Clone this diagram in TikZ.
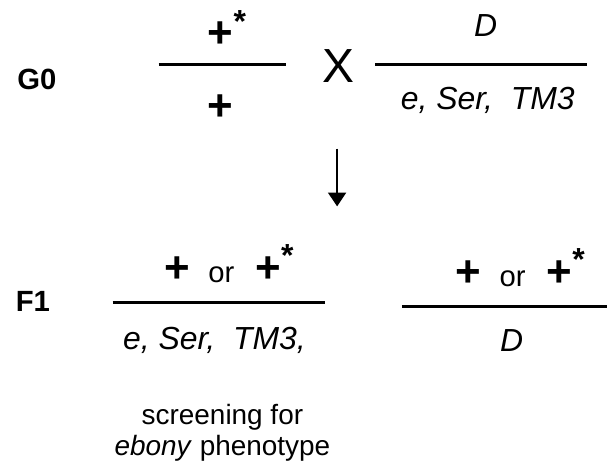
\documentclass[tikz,border=0pt]{standalone}
\usepackage{fontspec}
\setmainfont{Liberation Sans}
\usetikzlibrary{arrows.meta}

\tikzset{every picture/.style={line width=0.75pt}}
\tikzset{
  bar/.style={line width=2.4pt},
  gentext/.style={inner sep=0pt, anchor=base, font=\fontsize{24}{27}\selectfont\itshape},
  plustext/.style={inner sep=0pt, anchor=base west, font=\fontsize{33}{35}\selectfont\bfseries},
  gentag/.style={inner sep=0pt, anchor=base, font=\fontsize{22}{25}\selectfont\bfseries},
  notetext/.style={inner sep=0pt, align=center, font=\fontsize{21}{23}\selectfont},
}
\newcommand{\plusstar}{+\raisebox{0.36em}{\fontsize{24}{24}\selectfont *}}
\newcommand{\plusorstar}{+\hspace{14pt}{\fontsize{22}{24}\mdseries\selectfont or}\hspace{16pt}\plusstar}

\begin{document}
\begin{tikzpicture}[x=0.75pt,y=0.75pt,yscale=-1,xscale=1]
%set diagram size
\path (0,0) rectangle (609,469);

%Text Node
\node [gentag] (g0) at (37,90) {G0};
%Text Node
\node [gentag] (f1) at (33,312) {F1};

%Straight Lines
\draw [bar] (159,65) -- (287,65) ;
%Text Node
\node [plustext] (g0top) at (208,48) {\plusstar};
%Text Node
\node [plustext] (g0bot) at (208,121) {+};

%Text Node
\node [inner sep=0pt, anchor=base, font=\fontsize{36}{40}\selectfont] (cross) at (339,83) {X};

%Straight Lines
\draw [bar] (376,65) -- (589,65) ;
%Text Node
\node [gentext] (baltop) at (487,37) {D};
%Text Node
\node [gentext] (balbot) at (489,110) {e, Ser,\ \ TM3};

%Straight Lines
\coordinate (arrowtop) at (338,149);
\coordinate (arrowtip) at (338,207);
\draw [line width=1.8pt, -{Triangle[length=10.5pt,width=13.5pt]}] (arrowtop) -- (arrowtip) ;

%Straight Lines
\draw [bar] (113,303) -- (326,303) ;
%Text Node
\node [plustext] (f1atop) at (164,283) {\plusorstar};
%Text Node
\node [gentext] (f1abot) at (215,350) {e, Ser,\ \ TM3,};

%Straight Lines
\draw [bar] (403,307) -- (609,307) ;
%Text Node
\node [plustext] (f1btop) at (456,287) {\plusorstar};
%Text Node
\node [gentext] (f1bbot) at (513,352) {D};

%Text Node
\node [notetext] (screen) at (223,434) {screening for\\\textit{ebony} phenotype};

\end{tikzpicture}
\end{document}
